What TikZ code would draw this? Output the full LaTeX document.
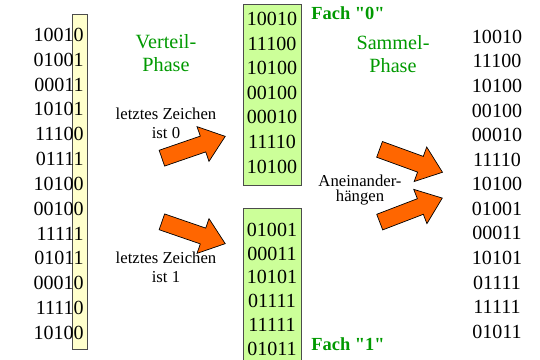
\documentclass[tikz,border=0pt]{standalone}
\usepackage{fontspec}
\setmainfont{Liberation Serif}
\newfontfamily\fachfont[Ligatures=TeXOff]{Liberation Serif}
\usepackage{tikz}
\usetikzlibrary{
  shapes.arrows,
  calc
}
\definecolor{fachgreen}{HTML}{CCFF99}
\definecolor{lastyellow}{HTML}{FFFFCC}
\definecolor{phasegreen}{HTML}{009900}
\definecolor{blockorange}{HTML}{FF6600}

\begin{document}
\begin{tikzpicture}[x=0.02cm,y=-0.02cm,
  digits/.style={inner sep=0pt,font=\fontsize{11.4}{14}\selectfont},
  phase/.style={align=center,text=phasegreen,inner sep=0pt,font=\fontsize{11.5}{13}\selectfont},
  note/.style={align=center,inner sep=0pt,font=\fontsize{9.5}{10.8}\selectfont},
  fach/.style={anchor=west,inner sep=0pt,text=phasegreen,font=\fachfont\fontsize{10.5}{12}\selectfont\bfseries},
  blockarrow/.style={single arrow,draw=black,fill=blockorange,inner sep=0.16cm,
    minimum height=1.34cm,single arrow head extend=0.2cm,single arrow tip angle=76}
]
\useasboundingbox (0,0) rectangle (540,359);
% unsorted list, last digit marked
\draw[fill=lastyellow,draw=black!70] (72.5,14) rectangle (87.5,349);
\foreach \w [count=\i] in {10010,01001,00011,10101,11100,01111,10100,00100,11111,01011,00010,11110,10100}
  \node[digits,anchor=east] (l\i) at (84,{35+24.8*(\i-1)}) {\w};
% the two bins
\draw[fill=fachgreen,draw=black!70] (243,4) rectangle (301,185);
\draw[fill=fachgreen,draw=black!70] (243,208) rectangle (301,362);
\foreach \w [count=\i] in {10010,11100,10100,00100,00010,11110,10100}
  \node[digits] (f0\i) at (272,{19+24.6*(\i-1)}) {\w};
\foreach \w [count=\i] in {01001,00011,10101,01111,11111,01011}
  \node[digits] (f1\i) at (272,{230+23.7*(\i-1)}) {\w};
\node[fach] (fach0) at (311,13) {Fach "0"};
\node[fach] (fach1) at (311,344) {Fach "1"};
% collected list
\foreach \w [count=\i] in {10010,11100,10100,00100,00010,11110,10100,01001,00011,10101,01111,11111,01011}
  \node[digits] (r\i) at (497,{36.7+24.58*(\i-1)}) {\w};
\node[phase] (verteil) at (166,53) {Verteil-\\Phase};
\node[phase] (sammel) at (393,54) {Sammel-\\Phase};
\node[note] (null) at (166,123) {letztes Zeichen\\ist 0};
\node[note] (eins) at (166,267) {letztes Zeichen\\ist 1};
\node[note,font=\fontsize{9.5}{8.6}\selectfont] (anein) at (360,190) {Aneinander-\\hängen};
\node[blockarrow,rotate=19] (a0) at (188.5,149) {};
\node[blockarrow,rotate=-19] (a1) at (188.5,231) {};
\node[blockarrow,rotate=-20] (s0) at (406,159) {};
\node[blockarrow,rotate=21] (s1) at (406,212) {};
\end{tikzpicture}
\end{document}
